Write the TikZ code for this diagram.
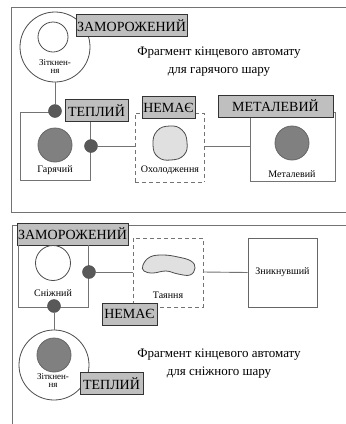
\documentclass[tikz,border=0pt]{standalone}
\usepackage{fontspec}
\setmainfont{Liberation Serif}
\begin{document}
\begin{tikzpicture}[x=1pt,y=-1pt,font=\rmfamily,
  ln/.style={draw=black!55,line width=0.9pt},
  dsh/.style={draw=black!55,line width=0.9pt,dash pattern=on 4pt off 3pt},
  lab/.style={draw=black!80,fill=black!25,line width=0.8pt,inner sep=0pt,minimum height=22pt,font=\rmfamily\fontsize{14}{14}\selectfont,anchor=center},
  dot/.style={circle,fill=black!65,draw=black!70,minimum size=13pt,inner sep=0pt},
  bigdark/.style={circle,fill=black!50,draw=black!60,line width=0.8pt,minimum size=34pt,inner sep=0pt},
  small/.style={font=\rmfamily\fontsize{10}{10}\selectfont,inner sep=0pt},
  tiny/.style={font=\rmfamily\fontsize{9}{8}\selectfont,inner sep=0pt,align=center},
  title/.style={font=\rmfamily\fontsize{13}{18}\selectfont,align=center,inner sep=0pt}]
\useasboundingbox (0,0) rectangle (346,424);
\fill[white] (0,0) rectangle (346,424);
% ---------- top panel frame
\draw[ln] (11,212) -- (11,7) -- (346,7);
\draw[ln] (11,212) -- (346,212);
% collision big circle
\node[circle,draw=black!70,line width=0.8pt,minimum size=70pt,inner sep=0pt,fill=white] (tcol) at (55,47) {};
\node[circle,draw=black!70,line width=0.8pt,minimum size=30pt,inner sep=0pt] (tcolin) at (53,37) {};
\node[tiny] (tcoltx) at (55,67) {Зіткнен-\\ня};
\node[lab,minimum width=111pt] (tfroz) at (131.5,25.5) {ЗАМОРОЖЕНИЙ};
\node[title] (ttitle) at (219,62) {Фрагмент кінцевого автомату\\для гарячого шару};
% hot box
\draw[ln] (55,112) -- (20,112) -- (20,180) -- (90,180) -- (90,120);
\node[dot] (tdot1) at (55,111) {};
\draw[ln] (tcol.south) -- (tdot1);
\node[lab,minimum width=63pt] (twarm) at (96.5,110.5) {ТЕПЛИЙ};
\node[bigdark] (hot) at (55,145) {};
\node[small] (hottx) at (55,170) {Гарячий};
\node[dot] (tdot2) at (91,146) {};
% cooling dashed box
\draw[dsh] (135,182) -- (135,113) -- (140,113);
\draw[dsh] (195,113) -- (204,113) -- (204,182);
\draw[dsh] (135,182) -- (204,182);
\coordinate (cool-w) at (135,146);
\coordinate (cool-e) at (204,146);
\node[lab,minimum width=53pt] (tnone) at (168.5,107.5) {НЕМАЄ};
\draw[draw=black!70,fill=black!12,line width=0.8pt] plot[smooth cycle,tension=0.8] coordinates {(170,126) (182,130) (187,142) (184,155) (171,160) (158,157) (153,145) (157,131)};
\node[small] (cooltx) at (170,170) {Охолодження};
\draw[ln] (tdot2) -- (cool-w);
% metal box
\draw[ln] (250,117) -- (250,181) -- (335,181) -- (335,112) -- (330,112);
\coordinate (met-w) at (250,146);
\draw[ln] (cool-e) -- (met-w);
\node[lab,minimum width=115pt] (tmetal) at (275.5,106) {МЕТАЛЕВИЙ};
\node[bigdark] (metal) at (292,143) {};
\node[small] (metaltx) at (292,174) {Металевий};
% ---------- bottom panel
\draw[ln] (12,424) -- (12,225) -- (18,225);
\draw[ln] (128,225) -- (346,225);
\node[lab,minimum width=111pt] (bfroz) at (72.5,234) {ЗАМОРОЖЕНИЙ};
% snowy box
\draw[ln] (18,245) -- (18,307) -- (88,307) -- (88,245);
\node[circle,draw=black!70,line width=0.8pt,minimum size=35pt,inner sep=0pt,fill=white] (snow) at (53,263) {};
\node[small] (snowtx) at (53,293) {Сніжний};
\node[dot] (bdot1) at (89,272) {};
\node[dot] (bdot2) at (54,306) {};
% melting dashed box
\draw[dsh] (133,305) -- (133,238) -- (203,238) -- (203,307) -- (158,307);
\coordinate (melt-w) at (133,272);
\coordinate (melt-e) at (203,272);
\draw[draw=black!70,fill=black!12,line width=0.8pt] plot[smooth cycle,tension=0.7] coordinates {(143,265) (150,257) (163,255) (178,257) (191,261) (195,268) (190,275) (178,274) (166,271) (153,273) (144,271)};
\node[small] (melttx) at (168,295) {Таяння};
\draw[ln] (bdot1) -- (melt-w);
\node[lab,minimum width=55pt] (bnone) at (129.5,314) {НЕМАЄ};
% vanished box
\node[draw=black!60,line width=0.9pt,minimum width=69pt,minimum height=69pt,inner sep=0pt,font=\rmfamily\fontsize{10}{10}\selectfont] (van) at (282.5,272.5) {Зникнувший};
\draw[ln] (melt-e) -- (van.west);
% bottom collision
\node[circle,draw=black!70,line width=0.8pt,minimum size=70pt,inner sep=0pt] (bcol) at (54,365) {};
\draw[ln] (bdot2) -- (bcol.north);
\node[bigdark] (bcolin) at (54,355) {};
\node[tiny] (bcoltx) at (53,381) {Зіткнен-\\ня};
\node[lab,minimum width=63pt] (bwarm) at (111.5,383.5) {ТЕПЛИЙ};
\node[title] (btitle) at (219,364) {Фрагмент кінцевого автомату\\для сніжного шару};
\end{tikzpicture}
\end{document}
